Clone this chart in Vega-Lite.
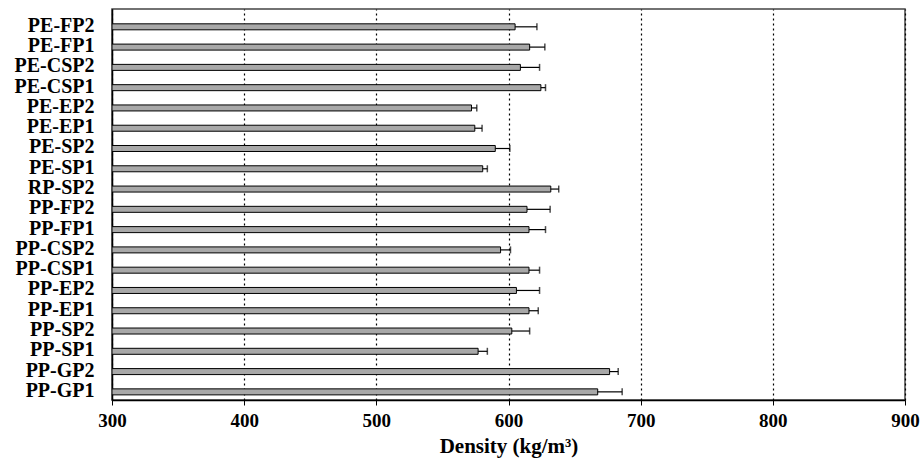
{
  "$schema": "https://vega.github.io/schema/vega-lite/v6.json",
  "width": 793,
  "height": 391,
  "autosize": {"type": "none"},
  "padding": {"left": 112, "top": 9, "right": 19, "bottom": 60},
  "background": "white",
  "config": {
    "view": {"stroke": "#444", "strokeWidth": 1.5},
    "font": "Liberation Serif"
  },
  "data": {
    "values": [
      {"sample": "PE-FP2", "density": 605, "upper": 621.5},
      {"sample": "PE-FP1", "density": 616, "upper": 627.5},
      {"sample": "PE-CSP2", "density": 609, "upper": 623.5},
      {"sample": "PE-CSP1", "density": 624.5, "upper": 628},
      {"sample": "PE-EP2", "density": 572, "upper": 576},
      {"sample": "PE-EP1", "density": 574.5, "upper": 580},
      {"sample": "PE-SP2", "density": 590, "upper": 601},
      {"sample": "PE-SP1", "density": 580.5, "upper": 584},
      {"sample": "RP-SP2", "density": 632, "upper": 638},
      {"sample": "PP-FP2", "density": 614, "upper": 631.5},
      {"sample": "PP-FP1", "density": 615.5, "upper": 628},
      {"sample": "PP-CSP2", "density": 594, "upper": 601.5},
      {"sample": "PP-CSP1", "density": 615.5, "upper": 623.5},
      {"sample": "PP-EP2", "density": 606, "upper": 623.5},
      {"sample": "PP-EP1", "density": 615.5, "upper": 622.5},
      {"sample": "PP-SP2", "density": 602.5, "upper": 616},
      {"sample": "PP-SP1", "density": 577, "upper": 584},
      {"sample": "PP-GP2", "density": 676.5, "upper": 683},
      {"sample": "PP-GP1", "density": 667.5, "upper": 686}
    ]
  },
  "encoding": {
    "y": {
      "field": "sample",
      "type": "nominal",
      "sort": null,
      "scale": {"paddingInner": 0, "paddingOuter": 0.14, "align": 1},
      "axis": {
        "title": null,
        "domainColor": "black",
        "domainWidth": 1.5,
        "ticks": false,
        "labelFont": "Liberation Serif",
        "labelFontWeight": "bold",
        "labelFontSize": 20,
        "labelColor": "black",
        "labelPadding": 18,
        "labelOffset": 1,
        "grid": false
      }
    }
  },
  "layer": [
    {
      "mark": {"type": "bar", "size": 6, "fill": "#a8a8a8", "stroke": "black", "strokeWidth": 1, "yOffset": 2, "clip": true},
      "encoding": {
        "x": {
          "field": "density",
          "type": "quantitative",
          "scale": {"domain": [300, 900], "zero": false, "nice": false},
          "axis": {
            "title": "Density (kg/m³)",
            "titleFont": "Liberation Serif",
            "titleFontWeight": "bold",
            "titleFontSize": 21,
            "titleColor": "black",
            "titlePadding": 5,
            "values": [300, 400, 500, 600, 700, 800, 900],
            "labelFont": "Liberation Serif",
            "labelFontWeight": "bold",
            "labelFontSize": 19,
            "labelFlush": false,
            "labelColor": "black",
            "labelPadding": 6,
            "domainColor": "black",
            "domainWidth": 1.5,
            "tickColor": "black",
            "tickSize": 5,
            "grid": true,
            "gridColor": "black",
            "gridDash": [2, 3],
            "gridWidth": 1.2
          }
        },
        "x2": {"datum": 300}
      }
    },
    {
      "mark": {"type": "rule", "color": "black", "strokeWidth": 1.2, "yOffset": 2},
      "encoding": {
        "x": {"field": "density", "type": "quantitative"},
        "x2": {"field": "upper"}
      }
    },
    {
      "mark": {"type": "tick", "color": "black", "thickness": 1.5, "size": 7, "orient": "vertical", "yOffset": 2},
      "encoding": {
        "x": {"field": "upper", "type": "quantitative"}
      }
    }
  ]
}
